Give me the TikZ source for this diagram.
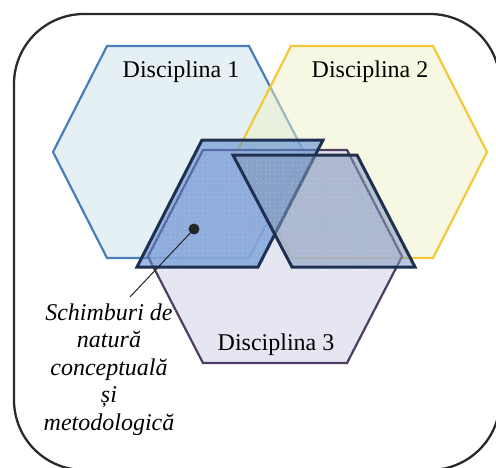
\documentclass[tikz,border=0pt]{standalone}
\usepackage{fontspec}
\setmainfont{Liberation Serif}
\usetikzlibrary{patterns.meta}
\definecolor{hexAline}{HTML}{4A7EBB}
\definecolor{hexAfill}{HTML}{E4F0F4}
\definecolor{hexBline}{HTML}{F2C93A}
\definecolor{hexBfill}{HTML}{EFF1C9}
\definecolor{hexCline}{HTML}{4F3D63}
\definecolor{hexCfill}{HTML}{DCDDEE}
\definecolor{paraline}{HTML}{1F3052}
\definecolor{paraLfill}{HTML}{5B8BD0}
\definecolor{paraRfill}{HTML}{8298BC}
\definecolor{frame}{HTML}{2A2A2A}
\begin{document}
\begin{tikzpicture}[x=1pt,y=-1pt,
  hexshape/.style={line width=2.2pt, line join=miter},
  parashape/.style={draw=paraline, line width=3pt, line join=miter},
  dotted fill/.style={pattern={Dots[distance=4.5pt, radius=0.45pt]}, pattern color=white, fill opacity=0.45},
  lbl/.style={font=\fontsize{24}{27.5}\selectfont, inner sep=0pt, anchor=base},
  note/.style={font=\fontsize{24}{27.5}\selectfont\itshape, align=center, inner sep=0pt}]
\useasboundingbox (0,0) rectangle (496,467);
% outer frame
\draw[frame, line width=2.3pt, rounded corners=70pt] (14,14) rectangle (500,470);
% Disciplina 1
\filldraw[hexshape, draw=hexAline, fill=hexAfill]
  (107,46) -- (249,46) -- (304,152) -- (249,258) -- (107,258) -- (53,152) -- cycle;
% Disciplina 2
\filldraw[hexshape, draw=hexBline, fill=hexBfill, fill opacity=0.5]
  (291,46) -- (433,46) -- (487,152) -- (433,258) -- (292,258) -- (237,152) -- cycle;
% Disciplina 3
\filldraw[hexshape, draw=hexCline, fill=hexCfill, fill opacity=0.75]
  (203,150) -- (347,150) -- (402,256.5) -- (347,363) -- (203,363) -- (148,256.5) -- cycle;
% parallelograms
\fill[fill=paraLfill, fill opacity=0.6]
  (202,140) -- (323,140) -- (258,267) -- (137,267) -- cycle;
\fill[dotted fill] (202,140) -- (323,140) -- (258,267) -- (137,267) -- cycle;
\draw[parashape] (202,140) -- (323,140) -- (258,267) -- (137,267) -- cycle;
\fill[fill=paraRfill, fill opacity=0.55]
  (233,155) -- (357,155) -- (415,267) -- (292,267) -- cycle;
\fill[dotted fill] (233,155) -- (357,155) -- (415,267) -- (292,267) -- cycle;
\draw[parashape] (233,155) -- (357,155) -- (415,267) -- (292,267) -- cycle;
% labels
\node[lbl] (d1) at (181,77) {Disciplina 1};
\node[lbl] (d2) at (370,77) {Disciplina 2};
\node[lbl] (d3) at (276,350) {Disciplina 3};
\node[note] (sch) at (109,369.4) {Schimburi de\\natură\\conceptuală\\și\\metodologică};
% pointer
\node[circle, fill=black!85, inner sep=0pt, minimum size=11pt] (dot) at (194,229) {};
\coordinate (tip) at (130,297);
\draw[line width=1pt, black!85] (dot.center) -- (tip);
\end{tikzpicture}
\end{document}
